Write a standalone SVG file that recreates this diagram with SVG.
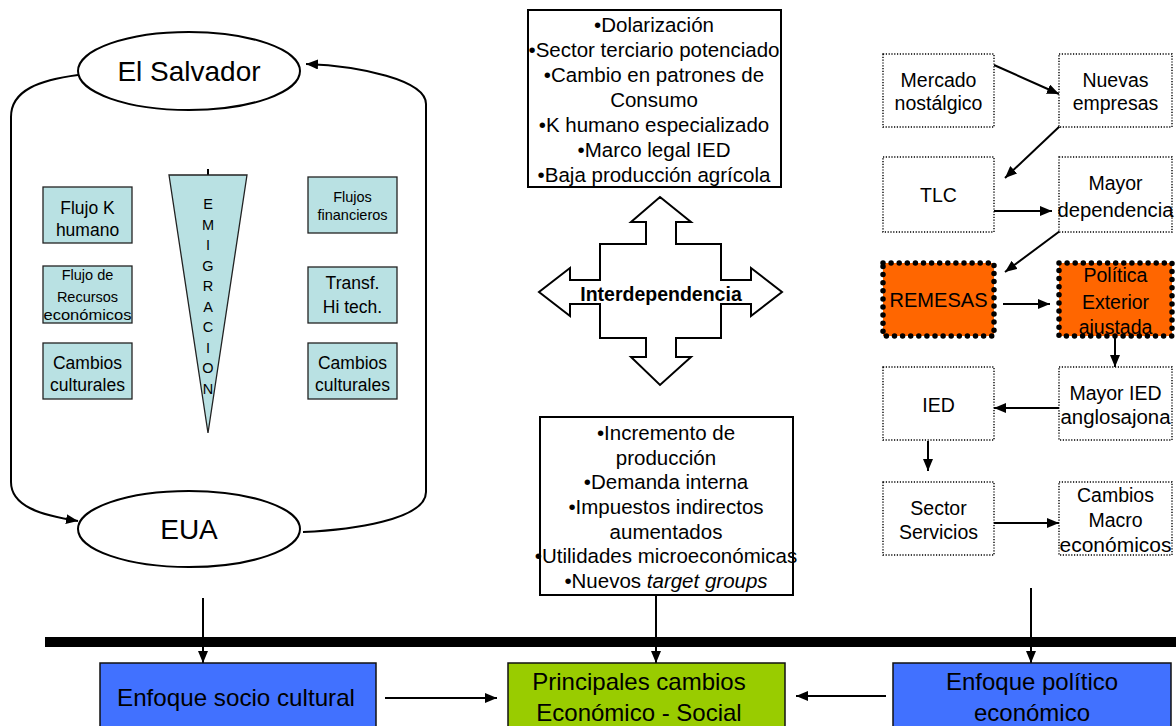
<svg xmlns="http://www.w3.org/2000/svg" width="1176" height="726" viewBox="0 0 1176 726">
<defs>
<marker id="ah" viewBox="0 0 12 10" refX="12" refY="5" markerWidth="12" markerHeight="10" markerUnits="userSpaceOnUse" orient="auto"><path d="M0,0 L12,5 L0,10 z" fill="#000"/></marker>
</defs>
<style>
text{font-family:"Liberation Sans",Arial,sans-serif;fill:#000;text-anchor:middle}
.ell{fill:#fff;stroke:#000;stroke-width:2}
.tb{fill:#b9e1e3;stroke:#222;stroke-width:1.3}
.cb{fill:#fff;stroke:#000;stroke-width:2}
.db{fill:#fff;stroke:#000;stroke-width:1.4;stroke-dasharray:1.2 1.6}
.ob{fill:#ff6600;stroke:#000;stroke-width:5.5;stroke-dasharray:0 8.1;stroke-linecap:round}
.bb{fill:#4171ff;stroke:#111;stroke-width:1.5}
.gb{fill:#99cc00;stroke:#111;stroke-width:1.5}
.con{fill:none;stroke:#000;stroke-width:2}
.arr{marker-end:url(#ah)}
.f17{font-size:17.5px}
.f14{font-size:14.5px}
.f20{font-size:20.5px}
.f19{font-size:19.5px}
.f24{font-size:24px}
</style>

<rect id="bar" x="45" y="637" width="1131" height="10" fill="#000"/>

<g id="connectors">
<path class="con arr" d="M78,75 C40,80 11,90 11,117 L11,482 C11,506 40,515 78,521"/>
<path class="con arr" d="M303,532 C350,530 426,520 426,492 L426,104 C426,80 360,66 306,64"/>
<path class="con arr" d="M203,598 L203,663"/>
<path class="con arr" d="M656,595 L656,663"/>
<path class="con arr" d="M1031,588 L1031,663"/>
<path class="con arr" d="M385,698 L497,698"/>
<path class="con arr" d="M886,696 L796,696"/>
<path class="con arr" d="M994,65 L1059,94"/>
<path class="con arr" d="M1060,126 L1005,178"/>
<path class="con arr" d="M994,211 L1052,211"/>
<path class="con arr" d="M1060,231 L1005,272"/>
<path class="con arr" d="M1003,304 L1050,304"/>
<path class="con arr" d="M1115,337 L1115,367"/>
<path class="con arr" d="M1059,408 L994,408"/>
<path class="con arr" d="M928,441 L928,471"/>
<path class="con arr" d="M994,523 L1059,523"/>
<path class="con" d="M208,169 L208,176"/>
</g>

<g id="el-salvador">
<ellipse class="ell" cx="189" cy="71" rx="111" ry="39"/>
<text x="189" y="81" style="font-size:28px">El Salvador</text>
</g>
<g id="eua">
<ellipse class="ell" cx="189" cy="529" rx="111" ry="38"/>
<text x="189" y="539" style="font-size:28px">EUA</text>
</g>

<g id="emigracion">
<polygon points="169,175 247,175 208,433" fill="#b9e1e3" stroke="#222" stroke-width="1.3"/>
<text class="f14" x="208" y="209">E</text>
<text class="f14" x="208" y="229.5">M</text>
<text class="f14" x="208" y="250">I</text>
<text class="f14" x="208" y="270.5">G</text>
<text class="f14" x="208" y="291">R</text>
<text class="f14" x="208" y="311.5">A</text>
<text class="f14" x="208" y="332">C</text>
<text class="f14" x="208" y="352.5">I</text>
<text class="f14" x="208" y="373">O</text>
<text class="f14" x="208" y="393.5">N</text>
</g>

<g id="flujo-k">
<rect class="tb" x="43" y="187" width="89" height="56"/>
<text class="f17" x="87.5" y="214">Flujo K</text>
<text class="f17" x="87.5" y="236">humano</text>
</g>
<g id="flujo-recursos">
<rect class="tb" x="43" y="266" width="89" height="57"/>
<text class="f14" x="87.5" y="280">Flujo de</text>
<text class="f14" x="87.5" y="302">Recursos</text>
<text class="f14" x="87.5" y="320" textLength="88" lengthAdjust="spacingAndGlyphs">económicos</text>
</g>
<g id="cambios-izq">
<rect class="tb" x="43" y="343" width="89" height="56"/>
<text class="f17" x="87.5" y="369">Cambios</text>
<text class="f17" x="87.5" y="391">culturales</text>
</g>
<g id="flujos-fin">
<rect class="tb" x="308" y="177" width="89" height="56"/>
<text class="f14" x="352.5" y="202">Flujos</text>
<text class="f14" x="352.5" y="220">financieros</text>
</g>
<g id="transf">
<rect class="tb" x="308" y="267" width="89" height="56"/>
<text class="f17" x="352.5" y="289">Transf.</text>
<text class="f17" x="352.5" y="313">Hi tech.</text>
</g>
<g id="cambios-der">
<rect class="tb" x="308" y="343" width="89" height="56"/>
<text class="f17" x="352.5" y="369">Cambios</text>
<text class="f17" x="352.5" y="391">culturales</text>
</g>

<g id="lista-superior">
<rect class="cb" x="528" y="10" width="253" height="177"/>
<text class="f20" x="654" y="32">•Dolarización</text>
<text class="f20" x="654" y="57">•Sector terciario potenciado</text>
<text class="f20" x="654" y="82">•Cambio en patrones de</text>
<text class="f20" x="654" y="107">Consumo</text>
<text class="f20" x="654" y="132">•K humano especializado</text>
<text class="f20" x="654" y="157">•Marco legal IED</text>
<text class="f20" x="654" y="182">•Baja producción agrícola</text>
</g>

<g id="interdependencia">
<polygon points="660,197 691,222 676,222 676,244 721,244 721,280 751,280 751,268 782,292 751,316 751,304 721,304 721,338 676,338 676,357 691,357 660,385 631,357 646,357 646,338 600,338 600,304 570,304 570,316 539,292 570,268 570,280 600,280 600,244 646,244 646,222 631,222" fill="#fff" stroke="#000" stroke-width="2"/>
<text x="661" y="301" style="font-size:19.5px;font-weight:bold">Interdependencia</text>
</g>

<g id="lista-inferior">
<rect class="cb" x="540" y="417" width="253" height="178"/>
<text class="f20" x="666" y="440">•Incremento de</text>
<text class="f20" x="666" y="465">producción</text>
<text class="f20" x="666" y="489">•Demanda interna</text>
<text class="f20" x="666" y="514">•Impuestos indirectos</text>
<text class="f20" x="666" y="539">aumentados</text>
<text class="f20" x="666" y="563">•Utilidades microeconómicas</text>
<text class="f20" x="666" y="588">•Nuevos <tspan font-style="italic">target groups</tspan></text>
</g>

<g id="mercado">
<rect class="db" x="883" y="54" width="111" height="73"/>
<text class="f19" x="938.5" y="87">Mercado</text>
<text class="f19" x="938.5" y="110">nostálgico</text>
</g>
<g id="nuevas">
<rect class="db" x="1059" y="54" width="113" height="73"/>
<text class="f19" x="1115.5" y="87">Nuevas</text>
<text class="f19" x="1115.5" y="110">empresas</text>
</g>
<g id="tlc">
<rect class="db" x="883" y="157" width="111" height="75"/>
<text class="f19" x="938.5" y="202">TLC</text>
</g>
<g id="mayor-dependencia">
<rect class="db" x="1059" y="157" width="113" height="75"/>
<text class="f19" x="1115.5" y="190">Mayor</text>
<text class="f19" x="1115.5" y="217" textLength="116" lengthAdjust="spacingAndGlyphs">dependencia</text>
</g>
<g id="remesas">
<rect class="ob" x="883" y="263" width="111" height="73"/>
<text class="f19" x="938.5" y="307" textLength="98" lengthAdjust="spacingAndGlyphs">REMESAS</text>
</g>
<g id="politica">
<rect class="ob" x="1059" y="263" width="113" height="73"/>
<text class="f19" x="1115.5" y="282">Política</text>
<text class="f19" x="1115.5" y="309">Exterior</text>
<text class="f19" x="1115.5" y="334">ajustada</text>
</g>
<g id="ied">
<rect class="db" x="883" y="367" width="111" height="73"/>
<text class="f19" x="938.5" y="412">IED</text>
</g>
<g id="mayor-ied">
<rect class="db" x="1059" y="367" width="113" height="73"/>
<text class="f19" x="1115.5" y="400">Mayor IED</text>
<text class="f19" x="1115.5" y="424" textLength="110" lengthAdjust="spacingAndGlyphs">anglosajona</text>
</g>
<g id="sector">
<rect class="db" x="883" y="482" width="111" height="73"/>
<text class="f19" x="938.5" y="515">Sector</text>
<text class="f19" x="938.5" y="539">Servicios</text>
</g>
<g id="cambios-macro">
<rect class="db" x="1059" y="482" width="113" height="73"/>
<text class="f19" x="1115.5" y="502">Cambios</text>
<text class="f19" x="1115.5" y="527">Macro</text>
<text class="f19" x="1115.5" y="552" textLength="112" lengthAdjust="spacingAndGlyphs">económicos</text>
</g>

<g id="enfoque-socio">
<rect class="bb" x="100" y="663" width="276" height="75"/>
<text class="f24" x="236" y="706" textLength="238" lengthAdjust="spacingAndGlyphs">Enfoque socio cultural</text>
</g>
<g id="principales">
<rect class="gb" x="508" y="663" width="277" height="75"/>
<text class="f24" x="639" y="690">Principales cambios</text>
<text class="f24" x="639" y="721">Económico - Social</text>
</g>
<g id="enfoque-politico">
<rect class="bb" x="893" y="663" width="278" height="75"/>
<text class="f24" x="1032" y="690">Enfoque político</text>
<text class="f24" x="1032" y="721">económico</text>
</g>
</svg>
